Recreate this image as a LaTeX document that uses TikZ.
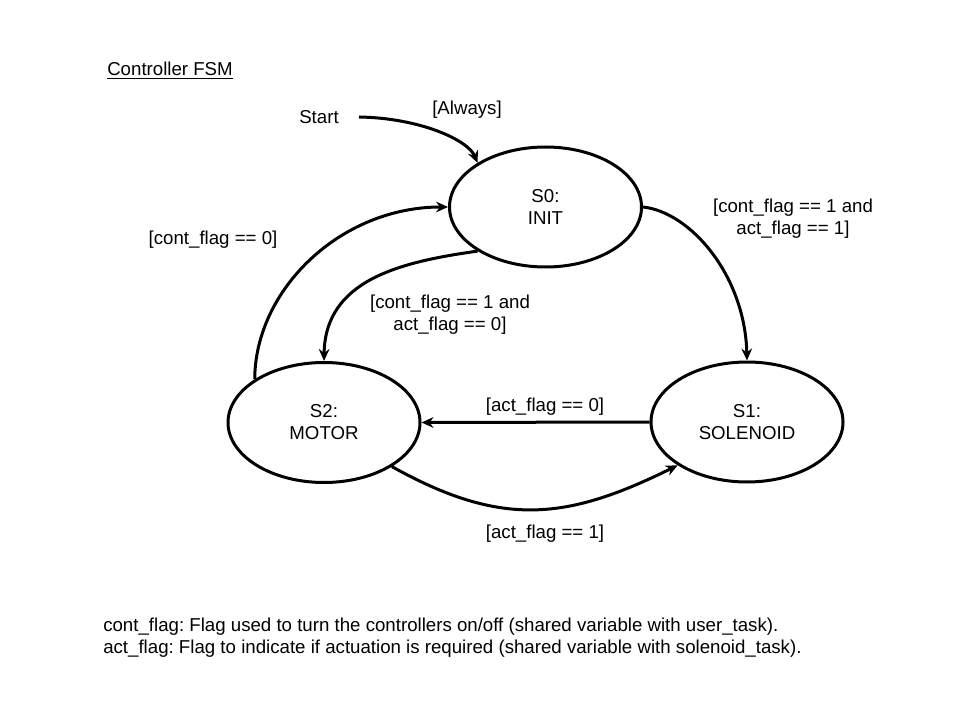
\documentclass[tikz,border=0pt]{standalone}
\usepackage{fontspec}
\setmainfont{Liberation Sans}
\usetikzlibrary{shapes.geometric,arrows.meta}
\newcommand\lblfont{\fontsize{14pt}{16.5pt}\selectfont\frenchspacing}
\begin{document}
\begin{tikzpicture}[x=0.75pt,y=-0.75pt,
  state/.style={ellipse,draw,line width=2.25pt,minimum width=144pt,minimum height=90pt,
    inner sep=0pt,align=center,font=\lblfont},
  trans/.style={line width=2.25pt,-{Stealth[length=9pt,width=8pt,inset=3pt]}},
  lbl/.style={align=center,font=\lblfont,inner sep=0pt}]
  \fill[white] (0,0) rectangle (960,720);
  \useasboundingbox (0,0) rectangle (960,720);

  % title
  \node[lbl,anchor=base west] (title) at (107,76) {\underline{Controller FSM}};

  % states
  \node[state] (s0) at (545.5,207) {S0:\\INIT};
  \node[state] (s1) at (747,422) {S1:\\SOLENOID};
  \node[state] (s2) at (324,422.5) {S2:\\MOTOR};

  % entry
  \node[lbl] (start) at (319,117) {Start};
  \coordinate (startout) at ([xshift=15pt]start.east);
  \draw[trans] (startout) .. controls (420,118) and (468,140) .. (s0.147);
  \node[lbl] (always) at (467,110) {[Always]};

  % S0 -> S1
  \draw[trans] (s0.east) .. controls (690,212) and (745,275) .. (s1.north);
  \node[lbl] (l01) at (793,219) {[cont\_flag == 1 and\\act\_flag == 1]};

  % S0 -> S2
  \draw[trans] (s0.213) .. controls (400,262) and (325,280) .. (s2.north);
  \node[lbl] (l02) at (450,315) {[cont\_flag == 1 and\\act\_flag == 0]};

  % S2 -> S0
  \draw[trans] (s2.148) .. controls (255,290) and (340,207) .. (s0.west);
  \node[lbl] (l20) at (213,240) {[cont\_flag == 0]};

  % S1 -> S2
  \draw[trans] (s1.west) -- (s2.east);
  \node[lbl] (l12) at (545,407) {[act\_flag == 0]};

  % S2 -> S1
  \draw[trans] (s2.327) .. controls (502,528) and (567,520) .. (s1.212);
  \node[lbl] (l21) at (545,534) {[act\_flag == 1]};

  % legend
  \node[lbl,anchor=west,align=left] (legend) at (103,638)
    {cont\_flag: Flag used to turn the controllers on/off (shared variable with user\_task).\\
     act\_flag: Flag to indicate if actuation is required (shared variable with solenoid\_task).};
\end{tikzpicture}
\end{document}
